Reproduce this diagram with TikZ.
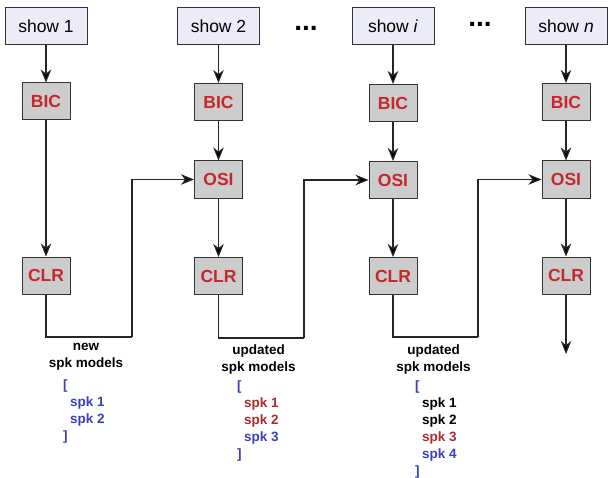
\documentclass[tikz,border=0pt]{standalone}
\usepackage{fontspec}
\setmainfont{Liberation Sans}
\usepackage{xcolor}
\usetikzlibrary{arrows.meta}
\definecolor{showfill}{RGB}{236,236,248}
\definecolor{boxfill}{RGB}{204,204,204}
\definecolor{boxred}{RGB}{198,38,44}
\definecolor{spkred}{RGB}{176,42,42}
\definecolor{spkblue}{RGB}{58,63,191}
\begin{document}
\begin{tikzpicture}[x=1pt,y=-1pt,
        show box/.style={fill=showfill,draw=black!80,rectangle,line width=1pt,minimum width=82pt,minimum height=37pt,inner sep=0pt,font=\fontsize{17.5}{20}\selectfont},
        stage box/.style={fill=boxfill,draw=black!80,rectangle,line width=1pt,minimum width=48pt,minimum height=37pt,inner sep=0pt,text=boxred,font=\fontsize{17.5}{20}\selectfont\bfseries},
        flow/.style={draw=black!85,line width=1.1pt,-{Stealth[length=13pt,width=10.5pt,inset=4pt,fill=black]}},
        link/.style={draw=black!85,line width=1.1pt},
        models head/.style={align=center,anchor=north,inner sep=0pt,font=\fontsize{13.5}{17}\selectfont\bfseries},
        models list/.style={align=left,anchor=north west,inner sep=0pt,font=\fontsize{13.5}{17}\selectfont\bfseries},
        dots/.style={anchor=base,inner sep=0pt,font=\fontsize{28}{30}\selectfont\bfseries}]
                \useasboundingbox (0,0) rectangle (609,478);
                % shows
                \node[show box] (show1) at (46,26) {show 1};
                \node[show box] (show2) at (218.5,26) {show 2};
                \node[show box] (showi) at (393,26.5) {show \textit{i}};
                \node[show box] (shown) at (566,26.5) {show \textit{n}};
                \node[dots] (dots1) at (306,31) {...};
                \node[dots] (dots2) at (480,27) {...};
                % stages
                \node[stage box] (bic1) at (46,101.5) {BIC};
                \node[stage box] (bic2) at (218.5,102) {BIC};
                \node[stage box] (bici) at (393,103) {BIC};
                \node[stage box] (bicn) at (566,102) {BIC};
                \node[stage box] (osi2) at (218.5,179.5) {OSI};
                \node[stage box] (osii) at (393,180) {OSI};
                \node[stage box] (osin) at (566,179.5) {OSI};
                \node[stage box] (clr1) at (46,275.5) {CLR};
                \node[stage box] (clr2) at (218.5,276) {CLR};
                \node[stage box] (clri) at (393,276) {CLR};
                \node[stage box] (clrn) at (566,275.5) {CLR};
                % loop corners
                \coordinate (loop1) at (132,337);
                \coordinate (loop2) at (304,338);
                \coordinate (loopi) at (478,337);
                \coordinate (outn) at (566,354);
                % arrows
                \draw[flow] (show1) -- (bic1);
                \draw[flow] (show2) -- (bic2);
                \draw[flow] (showi) -- (bici);
                \draw[flow] (shown) -- (bicn);
                \draw[flow] (bic1) -- (clr1);
                \draw[flow] (bic2) -- (osi2);
                \draw[flow] (bici) -- (osii);
                \draw[flow] (bicn) -- (osin);
                \draw[flow] (osi2) -- (clr2);
                \draw[flow] (osii) -- (clri);
                \draw[flow] (osin) -- (clrn);
                \draw[link] (clr1) |- (loop1);
                \draw[flow] (loop1) |- (osi2);
                \draw[link] (clr2) |- (loop2);
                \draw[flow] (loop2) |- (osii);
                \draw[link] (clri) |- (loopi);
                \draw[flow] (loopi) |- (osin);
                \draw[flow] (clrn) -- (outn);
                % speaker models
                \node[models head] (head1) at (86,343) {new\\spk models};
                \node[models list,text=spkblue] (list1) at (63,380) {[\\\hspace*{7pt}spk 1\\\hspace*{7pt}spk 2\\]};
                \node[models head] (head2) at (258.5,345) {updated\\spk models};
                \node[models list] (list2) at (237,381) {\textcolor{spkblue}{[}\\\hspace*{7pt}\textcolor{spkred}{spk 1}\\\hspace*{7pt}\textcolor{spkred}{spk 2}\\\hspace*{7pt}\textcolor{spkblue}{spk 3}\\\textcolor{spkblue}{]}};
                \node[models head] (headi) at (433.5,345) {updated\\spk models};
                \node[models list] (listi) at (415,381) {\textcolor{spkblue}{[}\\\hspace*{7pt}spk 1\\\hspace*{7pt}spk 2\\\hspace*{7pt}\textcolor{spkred}{spk 3}\\\hspace*{7pt}\textcolor{spkblue}{spk 4}\\\textcolor{spkblue}{]}};
            \end{tikzpicture}
\end{document}
